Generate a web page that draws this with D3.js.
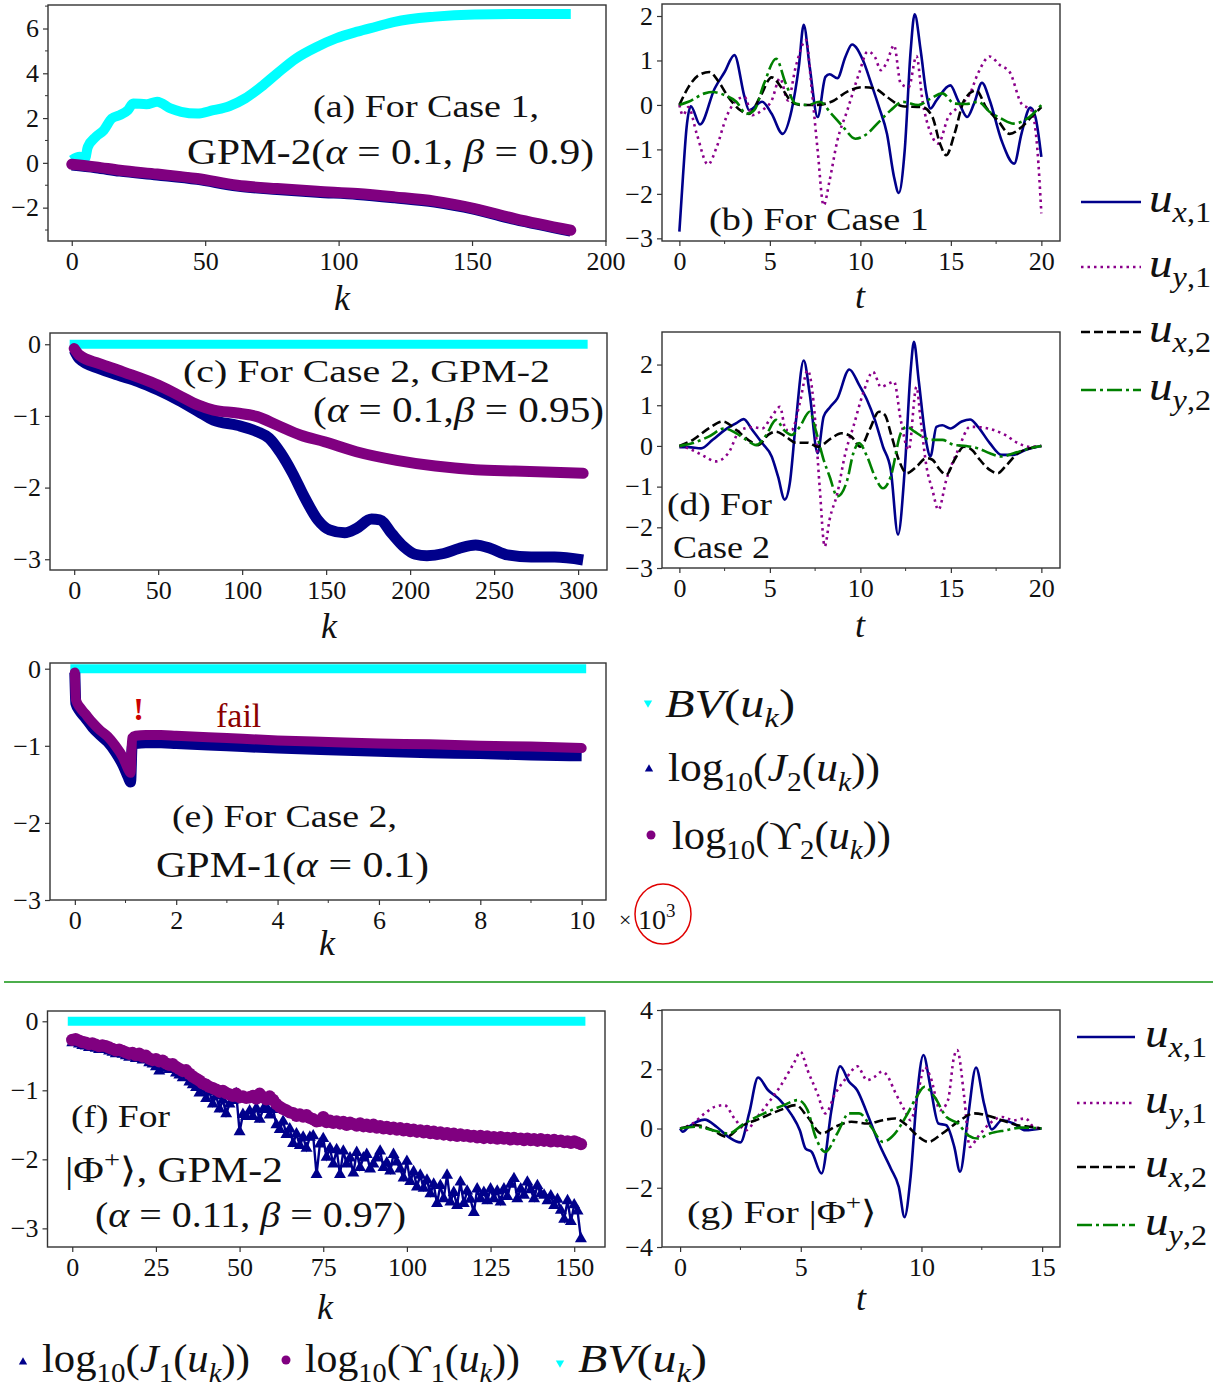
<!DOCTYPE html>
<html>
<head>
<meta charset="utf-8">
<script src="https://cdn.jsdelivr.net/npm/d3@7"></script>
<style>
  body { margin: 0; background: #fff; }
  svg text { font-family: "Liberation Serif", "Times New Roman", Times, serif; fill: #111; }
</style>
</head>
<body>
<script>
// ---------- tick labels ----------
const aXT = [0, 50, 100, 150, 200], aYT = [-2, 0, 2, 4, 6], aYM = [-3, -1, 1, 3, 5, 7];
const tXT20 = [0, 5, 10, 15, 20], tXM20 = [2.5, 7.5, 12.5, 17.5];
const bYT = [-3, -2, -1, 0, 1, 2];
const cXT = [0, 50, 100, 150, 200, 250, 300], cYT = [-3, -2, -1, 0];
const eXT = [0, 2, 4, 6, 8, 10], eXM = [1, 3, 5, 7, 9];
const fXT = [0, 25, 50, 75, 100, 125, 150];
const gXT = [0, 5, 10, 15], gXM = [2.5, 7.5, 12.5], gYT = [-4, -2, 0, 2, 4];

// ---------- (a) Case 1, GPM-2 ----------
const aBVk = [0, 3, 5, 6, 9, 12, 15, 18, 21, 23, 28, 32, 37, 41, 47, 53, 59, 65, 71, 77, 84, 92, 99, 107, 114, 121, 136, 151, 166, 187];
const aBV  = [0.12, 0.27, 0.2, 0.7, 1.16, 1.46, 1.98, 2.13, 2.35, 2.65, 2.62, 2.73, 2.43, 2.28, 2.2, 2.35, 2.53, 2.88, 3.4, 4.0, 4.66, 5.19, 5.56, 5.86, 6.08, 6.3, 6.53, 6.63, 6.65, 6.65];
const aK   = [0, 9, 18, 32, 47, 62, 77, 92, 107, 121, 136, 151, 166, 187];
const aJ   = [-0.1, -0.22, -0.37, -0.54, -0.74, -1.04, -1.19, -1.31, -1.41, -1.56, -1.75, -2.08, -2.53, -3.05];
const aU   = [-0.06, -0.18, -0.33, -0.5, -0.7, -1.0, -1.15, -1.27, -1.37, -1.52, -1.71, -2.04, -2.49, -3.01];

// ---------- (c) Case 2, GPM-2 ----------
const cBVk = [0, 303], cBV = [0, 0];
const cUk = [0, 3, 15, 26, 38, 50, 62, 74, 83, 97, 109, 121, 135, 149, 168, 192, 215, 239, 262, 303];
const cU  = [-0.06, -0.15, -0.27, -0.36, -0.46, -0.57, -0.71, -0.85, -0.92, -0.96, -1.01, -1.13, -1.27, -1.36, -1.5, -1.62, -1.7, -1.75, -1.77, -1.8];
const cJk = [0, 3, 15, 26, 38, 50, 62, 74, 83, 97, 109, 116, 123, 130, 137, 145, 152, 161, 168, 177, 182, 189, 196, 203, 210, 220, 229, 239, 248, 258, 272, 286, 303];
const cJ  = [-0.08, -0.2, -0.34, -0.43, -0.52, -0.64, -0.78, -0.94, -1.06, -1.13, -1.22, -1.31, -1.52, -1.8, -2.13, -2.45, -2.59, -2.63, -2.57, -2.44, -2.45, -2.64, -2.82, -2.93, -2.95, -2.92, -2.85, -2.8, -2.85, -2.94, -2.97, -2.97, -3.01];

// ---------- (e) Case 2, GPM-1 (k in 10^3) ----------
const eBVk = [0, 10], eBV = [0, 0];
const eK = [0, 0.02, 0.1, 0.2, 0.35, 0.5, 0.65, 0.8, 0.95, 1.05, 1.1, 1.13, 1.2, 1.4, 1.7, 2, 3, 4, 5, 6, 7, 8, 9, 10];
const eU = [-0.05, -0.4, -0.5, -0.58, -0.7, -0.8, -0.88, -1.0, -1.15, -1.3, -1.35, -0.9, -0.87, -0.86, -0.86, -0.87, -0.9, -0.93, -0.95, -0.97, -0.98, -1.0, -1.01, -1.03];
const eJ = [-0.05, -0.45, -0.55, -0.63, -0.76, -0.86, -0.95, -1.08, -1.25, -1.4, -1.47, -1.0, -0.97, -0.96, -0.96, -0.97, -1.0, -1.03, -1.05, -1.07, -1.09, -1.1, -1.12, -1.13];

// ---------- (f) |Phi+>, GPM-2, one value per k = 0..152 ----------
const fBVk = [0, 152], fBV = [0, 0];
const fU = [
  -0.27,-0.26,-0.28,-0.30,-0.31,-0.33,-0.32,-0.34,-0.36,-0.35,
  -0.36,-0.38,-0.40,-0.42,-0.41,-0.43,-0.45,-0.47,-0.46,-0.49,
  -0.47,-0.51,-0.50,-0.54,-0.56,-0.55,-0.58,-0.57,-0.61,-0.63,
  -0.62,-0.66,-0.69,-0.72,-0.71,-0.76,-0.80,-0.83,-0.86,-0.90,
  -0.92,-0.95,-0.97,-0.99,-1.02,-1.01,-1.04,-1.06,-1.08,-1.05,
  -1.10,-1.09,-1.11,-1.10,-1.08,-1.12,-1.05,-1.10,-1.13,-1.09,
  -1.14,-1.20,-1.24,-1.27,-1.29,-1.32,-1.33,-1.37,-1.35,-1.38,
  -1.36,-1.40,-1.42,-1.45,-1.44,-1.39,-1.46,-1.44,-1.47,-1.45,
  -1.48,-1.46,-1.50,-1.47,-1.49,-1.51,-1.48,-1.52,-1.50,-1.53,
  -1.50,-1.54,-1.52,-1.55,-1.53,-1.56,-1.54,-1.57,-1.55,-1.58,
  -1.56,-1.59,-1.57,-1.60,-1.58,-1.61,-1.59,-1.62,-1.60,-1.63,
  -1.61,-1.64,-1.62,-1.65,-1.63,-1.66,-1.64,-1.66,-1.65,-1.67,
  -1.66,-1.68,-1.66,-1.69,-1.67,-1.69,-1.68,-1.70,-1.68,-1.70,
  -1.69,-1.71,-1.69,-1.71,-1.70,-1.72,-1.70,-1.72,-1.71,-1.73,
  -1.71,-1.73,-1.72,-1.74,-1.72,-1.74,-1.73,-1.75,-1.74,-1.76,
  -1.74,-1.76,-1.78];
const fJ = [
  -0.31,-0.30,-0.33,-0.35,-0.36,-0.38,-0.37,-0.39,-0.41,-0.40,
  -0.41,-0.43,-0.45,-0.47,-0.46,-0.48,-0.50,-0.52,-0.51,-0.54,
  -0.52,-0.56,-0.55,-0.60,-0.62,-0.66,-0.72,-0.64,-0.68,-0.70,
  -0.67,-0.75,-0.78,-0.82,-0.80,-0.88,-0.92,-0.96,-1.04,-0.98,
  -1.12,-1.02,-1.20,-1.08,-1.27,-1.14,-1.34,-1.20,-1.15,-1.05,
  -1.60,-1.35,-1.38,-1.30,-1.38,-1.26,-1.42,-1.28,-1.24,-1.36,
  -1.28,-1.50,-1.57,-1.45,-1.64,-1.56,-1.77,-1.63,-1.80,-1.68,
  -1.84,-1.68,-1.66,-2.22,-1.78,-1.70,-1.97,-1.84,-2.07,-1.86,
  -2.22,-1.88,-2.07,-1.98,-2.20,-1.90,-2.12,-1.98,-1.93,-2.14,
  -2.07,-1.98,-1.88,-2.12,-2.05,-2.17,-1.93,-2.04,-2.14,-2.27,
  -2.03,-2.32,-2.18,-2.40,-2.23,-2.42,-2.30,-2.50,-2.36,-2.64,
  -2.38,-2.57,-2.23,-2.62,-2.48,-2.67,-2.33,-2.64,-2.46,-2.58,
  -2.77,-2.43,-2.57,-2.48,-2.60,-2.43,-2.57,-2.46,-2.62,-2.43,
  -2.54,-2.36,-2.28,-2.57,-2.43,-2.52,-2.33,-2.44,-2.57,-2.38,
  -2.50,-2.52,-2.60,-2.53,-2.67,-2.58,-2.74,-2.87,-2.60,-2.90,
  -2.66,-2.75,-3.15];

// ---------- (b) controls, Case 1: [t, value] ----------
const bUx1 = [[0,-2.85],[0.2,-1.6],[0.4,-0.5],[0.63,-0.03],[1.14,-0.44],[1.95,0.37],[2.5,0.74],[3.04,1.12],[3.6,0.18],[3.85,-0.12],[4.57,0.07],[5.1,-0.2],[5.7,-0.65],[6.2,-0.12],[6.6,0.86],[6.87,1.8],[7.2,0.86],[7.64,-0.27],[8.07,0.63],[8.3,0.69],[8.73,0.6],[9.17,1.08],[9.54,1.36],[10.15,1.0],[10.6,0.48],[11.03,-0.05],[11.47,-0.65],[11.86,-1.62],[12.12,-1.98],[12.45,-1.02],[12.78,1.23],[13.0,2.04],[13.33,1.23],[13.65,0.25],[13.87,-0.08],[14.2,0.1],[14.97,0.44],[15.4,0.1],[15.9,-0.27],[16.28,0.03],[16.72,0.5],[17.15,0.1],[17.8,-0.8],[18.5,-1.32],[18.9,-0.65],[19.39,-0.06],[19.67,-0.27],[20,-1.17]];
const bUy1 = [[0,0],[0.2,-0.23],[0.5,-0.05],[0.96,-0.65],[1.58,-1.34],[2.06,-0.95],[2.6,-0.27],[3.15,0.1],[3.6,0.18],[4.03,-0.23],[4.57,-0.12],[5.1,0.1],[5.56,0.6],[6.0,0.1],[6.43,0.86],[7.0,1.46],[7.3,0.4],[7.64,-1.02],[7.97,-2.26],[8.3,-1.7],[8.73,-0.8],[9.28,-0.12],[9.93,0.71],[10.4,1.2],[10.8,1.08],[11.14,0.78],[11.47,0.97],[11.86,1.34],[12.23,0.48],[12.67,0.4],[13.1,1.1],[13.43,0.1],[13.9,-0.65],[14.3,-0.87],[14.86,-0.27],[15.4,-0.05],[16.06,0.26],[16.5,0.71],[17.15,1.09],[17.7,0.9],[18.25,0.74],[18.9,0.03],[19.45,-0.12],[19.78,-1.0],[20,-2.44]];
const bUx2 = [[0,0],[0.5,0.4],[1.07,0.67],[1.66,0.74],[2.17,0.52],[2.7,0.18],[3.37,-0.12],[3.85,-0.2],[4.46,0.18],[5.1,0.62],[5.67,0.37],[6.2,0.07],[6.65,0],[7.5,0],[8.4,0.07],[9.28,0.3],[10.15,0.4],[10.8,0.37],[11.47,0.18],[12.34,-0.03],[13.43,-0.05],[13.98,-0.27],[14.4,-0.87],[14.75,-1.13],[15.2,-0.65],[15.73,0.1],[16.4,0.33],[16.94,-0.05],[17.6,-0.35],[18.25,-0.65],[18.9,-0.5],[19.45,-0.27],[20,-0.05]];
const bUy2 = [[0,0],[0.5,0.07],[1.4,0.26],[1.84,0.29],[2.5,0.22],[3.15,0.07],[3.7,-0.2],[4.13,-0.12],[4.68,0.48],[5.34,1.04],[5.88,0.48],[6.43,0.03],[7.09,0],[7.74,0.07],[8.4,-0.2],[9.06,-0.5],[9.72,-0.76],[10.37,-0.65],[11.03,-0.38],[11.68,-0.12],[12.34,0.07],[13.2,0],[13.87,0.14],[14.53,0.26],[15.2,0.03],[15.85,0.02],[16.5,0.07],[17.15,-0.16],[17.8,-0.31],[18.47,-0.42],[19.34,-0.27],[20,0]];

// ---------- (d) controls, Case 2 ----------
const dUx1 = [[0,-0.03],[0.5,-0.03],[1.2,-0.06],[1.84,0.15],[2.5,0.39],[3.15,0.56],[3.55,0.66],[4.03,0.39],[4.57,0.07],[5.1,-0.26],[5.45,-0.75],[5.82,-1.32],[6.1,-0.92],[6.43,0.56],[6.87,2.1],[7.2,1.29],[7.64,-0.18],[7.97,0.72],[8.3,0.94],[8.73,1.17],[9.39,1.88],[9.93,1.5],[10.37,1.13],[10.8,0.64],[11.25,-0.02],[11.68,-0.59],[12.08,-2.18],[12.45,-0.59],[12.78,1.86],[12.96,2.56],[13.22,1.62],[13.65,0.07],[13.87,-0.26],[14.2,0.47],[14.53,0.51],[14.97,0.43],[15.6,0.6],[16.06,0.65],[16.5,0.47],[17.15,0.07],[17.8,-0.22],[18.47,-0.22],[19.12,-0.1],[20,0]];
const dUy1 = [[0,0],[0.5,-0.06],[1.4,-0.26],[2.0,-0.38],[2.7,-0.18],[3.37,0.39],[4.03,0.46],[4.57,0.43],[5.1,0.72],[5.56,0.96],[5.88,0.39],[6.2,0.39],[6.65,1.05],[7.09,1.86],[7.42,1.05],[7.75,-1.0],[8.03,-2.47],[8.3,-1.81],[8.73,-1.16],[9.17,-0.18],[9.61,0.47],[10.15,1.29],[10.7,1.82],[11.14,1.45],[11.6,1.54],[11.86,1.58],[12.23,0.64],[12.67,-0.1],[13.1,1.45],[13.33,0.64],[13.65,-0.5],[13.98,-1.08],[14.31,-1.57],[14.75,-0.83],[15.4,-0.1],[16.06,0.47],[16.6,0.46],[17.37,0.39],[18.0,0.27],[18.7,0.07],[19.34,-0.02],[20,0]];
const dUx2 = [[0,0],[0.75,0.15],[1.62,0.43],[2.39,0.6],[3.15,0.39],[3.8,0.15],[4.35,0.02],[4.9,0.27],[5.34,0.35],[5.88,0.23],[6.43,0.08],[7.09,0.08],[7.64,-0.02],[8.4,0.19],[8.95,0.31],[9.5,0.23],[10,-0.02],[10.5,0.39],[11.03,0.84],[11.36,0.76],[11.68,0.31],[12.12,-0.34],[12.56,-0.67],[13.1,-0.51],[13.65,-0.3],[13.98,-0.34],[14.4,-0.59],[14.75,-0.71],[15.2,-0.34],[15.73,-0.02],[16.17,-0.1],[16.6,-0.34],[17.15,-0.59],[17.6,-0.67],[18.0,-0.51],[18.7,-0.18],[19.34,-0.06],[20,0]];
const dUy2 = [[0,0],[0.75,0.07],[1.62,0.23],[2.5,0.43],[3.15,0.31],[3.7,0.15],[4.24,0.02],[4.8,0.27],[5.34,0.64],[5.78,0.39],[6.2,0.27],[6.65,0.47],[7.2,0.84],[7.53,0.39],[7.97,-0.34],[8.3,-0.75],[8.73,-1.24],[9.28,-0.83],[9.61,-0.18],[9.93,0.07],[10.37,-0.26],[10.8,-0.75],[11.25,-1.04],[11.68,-0.75],[12.23,0.31],[12.56,0.47],[13.0,0.35],[13.43,0.23],[13.87,0.15],[14.53,0.15],[15.2,0.02],[15.85,0],[16.5,-0.06],[17.15,-0.18],[17.8,-0.26],[18.47,-0.18],[19.34,-0.06],[20,0]];

// ---------- (g) controls, |Phi+> ----------
const gUx1 = [[0,0],[0.11,-0.11],[0.36,0.06],[1.02,0.3],[1.51,0.06],[2.0,-0.28],[2.5,-0.47],[2.86,0.51],[3.23,1.72],[3.64,1.3],[4.14,0.96],[4.63,0.45],[4.96,-0.06],[5.2,-0.68],[5.45,-0.79],[5.86,-1.52],[6.27,0.62],[6.63,2.1],[7.0,1.58],[7.33,1.3],[7.75,0.51],[8.24,-0.51],[8.73,-1.35],[9.06,-1.97],[9.3,-2.99],[9.55,-1.63],[9.8,0.96],[10.08,2.48],[10.37,1.41],[10.7,0.17],[11.03,0.11],[11.36,-0.62],[11.6,-1.46],[11.93,0.39],[12.26,2.06],[12.59,0.85],[12.92,-0.03],[13.33,0.28],[13.82,0.17],[14.31,-0.06],[14.97,0]];
const gUy1 = [[0,0],[0.52,0.17],[1.02,0.51],[1.43,0.73],[1.84,0.79],[2.25,0.34],[2.74,-0.06],[3.15,0.34],[3.64,0.85],[4.14,1.41],[4.71,2.2],[4.99,2.59],[5.28,1.97],[5.69,1.18],[6.02,0.51],[6.43,1.18],[6.93,1.75],[7.34,2.1],[7.75,1.63],[8.07,1.75],[8.37,1.92],[8.57,1.8],[8.9,1.24],[9.3,0.62],[9.55,0.28],[9.88,1.3],[10.13,2.08],[10.37,1.75],[10.78,0.62],[11.1,0.96],[11.35,2.42],[11.48,2.65],[11.77,1.07],[12.0,-0.62],[12.34,-0.28],[12.83,0.17],[13.33,0.39],[13.82,0.28],[14.31,0.34],[14.64,0.06],[14.97,0]];
const gUx2 = [[0,0],[0.69,0.11],[1.35,-0.06],[1.92,-0.28],[2.5,0.06],[3.32,0.34],[4.14,0.62],[4.8,0.79],[5.28,0.39],[5.86,-0.17],[6.43,0.06],[7.1,0.23],[7.75,0.17],[8.4,0.28],[8.9,0.34],[9.39,0.11],[9.88,-0.28],[10.29,-0.45],[10.86,-0.17],[11.52,0.23],[12.18,0.51],[12.67,0.45],[13.33,0.28],[13.98,0.11],[14.48,0.06],[14.97,0]];
const gUy2 = [[0,0],[0.69,0.06],[1.35,-0.06],[2.0,-0.17],[2.66,0.17],[3.48,0.51],[4.3,0.79],[4.88,0.96],[5.28,0.62],[5.61,-0.28],[6.02,-0.79],[6.51,-0.17],[7.0,0.51],[7.42,0.51],[7.91,0.06],[8.4,-0.45],[8.9,-0.17],[9.39,0.45],[9.8,1.07],[10.13,1.41],[10.54,1.07],[11.03,0.39],[11.52,0.17],[11.93,-0.23],[12.34,-0.34],[12.83,-0.17],[13.49,-0.06],[14.14,0.03],[14.97,0]];

// ---------- styling ----------
const CYAN = "#00ffff", NAVY = "#00008b", PURPLE = "#800080";
const LINES = [
  { c: "#00008b", dash: null },          // u_x,1
  { c: "#8b008b", dash: "2.5,4" },       // u_y,1
  { c: "#000000", dash: "9,4" },         // u_x,2
  { c: "#008000", dash: "15,4,3,4" }     // u_y,2
];
const fmt = d3.format("d");

const svg = d3.select("body").append("svg")
  .attr("width", 1231).attr("height", 1391)
  .style("display", "block");

// text with sub/superscripts: parts = [[string, kind]], kind r|i|subr|subi|supr
function rich(g, x, y, parts, size, width) {
  const t = g.append("text").attr("x", x).attr("y", y).attr("font-size", size);
  let shift = 0;
  parts.forEach(([s, k]) => {
    const sub = k.startsWith("sub"), sup = k.startsWith("sup");
    const target = sub ? size * 0.24 : sup ? -size * 0.42 : 0;
    const sp = t.append("tspan").attr("dy", target - shift).text(s);
    shift = target;
    if (sub || sup) sp.attr("font-size", size * 0.68);
    if (k.endsWith("i")) sp.attr("font-style", "italic");
  });
  if (width) t.attr("textLength", width).attr("lengthAdjust", "spacingAndGlyphs");
  return t;
}

function panel(bx, xd, yd, xt, yt, xm, ym, lab, lx, ly) {
  const [l, r, top, bot] = bx;
  const g = svg.append("g");
  const x = d3.scaleLinear().domain(xd).range([l, r]);
  const y = d3.scaleLinear().domain(yd).range([bot, top]);

  const xa = g.append("g").attr("transform", `translate(0,${bot})`)
    .call(d3.axisBottom(x).tickValues(xt).tickSize(5).tickPadding(6).tickFormat(fmt));
  const ya = g.append("g").attr("transform", `translate(${l},0)`)
    .call(d3.axisLeft(y).tickValues(yt).tickSize(5).tickPadding(4).tickFormat(fmt));
  [xa, ya].forEach(a => {
    a.attr("font-family", null).attr("font-size", null);
    a.select(".domain").remove();
    a.selectAll("line").attr("stroke", "#333").attr("stroke-width", 1.2);
    a.selectAll("text").attr("font-size", 26).attr("fill", "#111");
  });
  (xm || []).forEach(v => g.append("line")
    .attr("x1", x(v)).attr("x2", x(v)).attr("y1", bot).attr("y2", bot + 3)
    .attr("stroke", "#333").attr("stroke-width", 1));
  (ym || []).forEach(v => g.append("line")
    .attr("y1", y(v)).attr("y2", y(v)).attr("x1", l).attr("x2", l - 3)
    .attr("stroke", "#333").attr("stroke-width", 1));

  g.append("rect")
    .attr("x", l).attr("y", top).attr("width", r - l).attr("height", bot - top)
    .attr("fill", "none").attr("stroke", "#333").attr("stroke-width", 1.4);

  g.append("text")
    .attr("x", lx).attr("y", ly)
    .attr("text-anchor", "middle").attr("font-style", "italic").attr("font-size", 36)
    .text(lab);
  return { g, x, y };
}

// thick band made of densely packed markers
function band(p, ks, vs, color, w, cap) {
  p.g.append("path")
    .datum(d3.zip(ks, vs))
    .attr("d", d3.line().x(d => p.x(d[0])).y(d => p.y(d[1])).curve(d3.curveMonotoneX))
    .attr("fill", "none").attr("stroke", color).attr("stroke-width", w)
    .attr("stroke-linecap", cap || "butt").attr("stroke-linejoin", "round");
}

function controls(p, series) {
  series.forEach((s, i) => {
    p.g.append("path")
      .datum(s)
      .attr("d", d3.line().x(d => p.x(d[0])).y(d => p.y(d[1])).curve(d3.curveMonotoneX))
      .attr("fill", "none").attr("stroke", LINES[i].c).attr("stroke-width", 2.6)
      .attr("stroke-dasharray", LINES[i].dash);
  });
}

function lineLegend(x0, x1, tx, ys) {
  const subs = [["x", ",1"], ["y", ",1"], ["x", ",2"], ["y", ",2"]];
  ys.forEach((yy, i) => {
    svg.append("line")
      .attr("x1", x0).attr("x2", x1).attr("y1", yy).attr("y2", yy)
      .attr("stroke", LINES[i].c).attr("stroke-width", 2.6)
      .attr("stroke-dasharray", LINES[i].dash);
    rich(svg, tx, yy + 10, [["u", "i"], [subs[i][0], "subi"], [subs[i][1], "subr"]], 42, 62);
  });
}

const tri = d3.symbol().type(d3.symbolTriangle);

// ---------- (a) ----------
const pa = panel([48, 606, 5, 241], [-8.9, 200.2], [-3.49, 7.05], aXT, aYT, null, aYM, "k", 342, 310);
band(pa, aBVk, aBV, CYAN, 10);
band(pa, aK, aJ, NAVY, 11);
band(pa, aK, aU, PURPLE, 11, "round");
rich(pa.g, 313, 117, [["(a) For Case 1,", "r"]], 32, 226);
rich(pa.g, 187, 164, [["GPM-2(", "r"], ["α", "i"], [" = 0.1, ", "r"], ["β", "i"], [" = 0.9)", "r"]], 35, 407);

// ---------- (b) ----------
const pb = panel([662, 1060, 4, 241], [-0.96, 21.03], [-3.06, 2.27], tXT20, bYT, tXM20, null, "t", 860, 308);
controls(pb, [bUx1, bUy1, bUx2, bUy2]);
rich(pb.g, 709, 230, [["(b) For Case 1", "r"]], 32, 220);

// ---------- (c) ----------
const pc = panel([50, 607, 333, 570], [-14.4, 317.2], [-3.15, 0.157], cXT, cYT, null, null, "k", 329, 638);
band(pc, cBVk, cBV, CYAN, 9, "square");
band(pc, cJk, cJ, NAVY, 11);
band(pc, cUk, cU, PURPLE, 11, "round");
rich(pc.g, 183, 382, [["(c) For Case 2, GPM-2", "r"]], 32, 367);
rich(pc.g, 313, 422, [["(", "r"], ["α", "i"], [" = 0.1,", "r"], ["β", "i"], [" = 0.95)", "r"]], 35, 291);

// ---------- (d) ----------
const pd = panel([662, 1060, 332, 568], [-0.96, 21.03], [-3.0, 2.8], tXT20, bYT, tXM20, null, "t", 860, 637);
controls(pd, [dUx1, dUy1, dUx2, dUy2]);
rich(pd.g, 667, 515, [["(d) For", "r"]], 32, 105);
rich(pd.g, 673, 558, [["Case 2", "r"]], 32, 97);

lineLegend(1081, 1141, 1149, [202, 267, 332, 390]);

// ---------- (e) ----------
const pe = panel([50, 606, 663, 900], [-0.49, 10.48], [-3.0, 0.074], eXT, cYT, eXM, null, "k", 327, 955);
band(pe, eBVk, eBV, CYAN, 9, "square");
band(pe, eK, eJ, NAVY, 11);
band(pe, eK, eU, PURPLE, 10, "round");
pe.g.append("text").attr("x", 138.5).attr("y", 720).attr("text-anchor", "middle")
  .attr("font-size", 32).attr("font-weight", "bold").style("fill", "#cc0000").text("!");
pe.g.append("text").attr("x", 216).attr("y", 727)
  .attr("font-size", 34).style("fill", "#8b0000").text("fail");
rich(pe.g, 172, 827, [["(e) For Case 2,", "r"]], 32, 225);
rich(pe.g, 156, 877, [["GPM-1(", "r"], ["α", "i"], [" = 0.1)", "r"]], 35, 273);

// x10^3 with red circle
svg.append("text").attr("x", 619).attr("y", 927).attr("font-size", 22).text("×");
rich(svg, 638, 929, [["10", "r"], ["3", "supr"]], 28);
svg.append("ellipse").attr("cx", 663).attr("cy", 914).attr("rx", 28).attr("ry", 30)
  .attr("fill", "none").attr("stroke", "#e00000").attr("stroke-width", 1.5);

// middle legend
svg.append("path").attr("d", tri.size(30)()).attr("fill", CYAN)
  .attr("transform", "translate(648,703) rotate(180)");
rich(svg, 665, 717, [["BV", "i"], ["(", "r"], ["u", "i"], ["k", "subi"], [")", "r"]], 40, 130);
svg.append("path").attr("d", tri.size(30)()).attr("fill", NAVY)
  .attr("transform", "translate(649,769)");
rich(svg, 668, 781, [["log", "r"], ["10", "subr"], ["(", "r"], ["J", "i"], ["2", "subr"], ["(", "r"], ["u", "i"], ["k", "subi"], ["))", "r"]], 40, 212);
svg.append("circle").attr("cx", 651).attr("cy", 835).attr("r", 4.5).attr("fill", PURPLE);
rich(svg, 672, 849, [["log", "r"], ["10", "subr"], ["(", "r"], ["ϒ", "r"], ["2", "subr"], ["(", "r"], ["u", "i"], ["k", "subi"], ["))", "r"]], 40, 219);

// separator
svg.append("line").attr("x1", 4).attr("x2", 1213).attr("y1", 982).attr("y2", 982)
  .attr("stroke", "#4cae4c").attr("stroke-width", 2);

// ---------- (f) ----------
const pf = panel([47.5, 605, 1011, 1247], [-7.4, 159.2], [-3.27, 0.149], fXT, cYT, null, null, "k", 325, 1319);
band(pf, fBVk, fBV, CYAN, 9, "square");
const fPts = (arr) => arr.map((v, k) => [k, v]);
const lineF = d3.line().x(d => pf.x(d[0])).y(d => pf.y(d[1]));
pf.g.append("path").datum(fPts(fJ)).attr("d", lineF)
  .attr("fill", "none").attr("stroke", NAVY).attr("stroke-width", 2.4);
pf.g.selectAll("path.jm").data(fPts(fJ)).join("path").attr("class", "jm")
  .attr("d", tri.size(62)()).attr("fill", NAVY)
  .attr("transform", d => `translate(${pf.x(d[0])},${pf.y(d[1])})`);
pf.g.append("path").datum(fPts(fU)).attr("d", lineF)
  .attr("fill", "none").attr("stroke", PURPLE).attr("stroke-width", 2.4);
pf.g.selectAll("circle.um").data(fPts(fU)).join("circle").attr("class", "um")
  .attr("cx", d => pf.x(d[0])).attr("cy", d => pf.y(d[1])).attr("r", 6.2).attr("fill", PURPLE);
rich(pf.g, 71, 1127, [["(f) For", "r"]], 32, 99);
rich(pf.g, 65, 1182, [["|Φ", "r"], ["+", "supr"], ["⟩, GPM-2", "r"]], 35, 218);
rich(pf.g, 95, 1227, [["(", "r"], ["α", "i"], [" = 0.11, ", "r"], ["β", "i"], [" = 0.97)", "r"]], 35, 311);

// ---------- (g) ----------
const pg = panel([662, 1060, 1010, 1247], [-0.75, 15.74], [-4, 4], gXT, gYT, gXM, null, "t", 861, 1310);
controls(pg, [gUx1, gUy1, gUx2, gUy2]);
rich(pg.g, 687, 1223, [["(g) For |Φ", "r"], ["+", "supr"], ["⟩", "r"]], 32, 189);
lineLegend(1077, 1135, 1145, [1037, 1103, 1167, 1225]);

// bottom legend
svg.append("path").attr("d", tri.size(30)()).attr("fill", NAVY)
  .attr("transform", "translate(23,1362)");
rich(svg, 42, 1372, [["log", "r"], ["10", "subr"], ["(", "r"], ["J", "i"], ["1", "subr"], ["(", "r"], ["u", "i"], ["k", "subi"], ["))", "r"]], 40, 208);
svg.append("circle").attr("cx", 286).attr("cy", 1360).attr("r", 4.5).attr("fill", PURPLE);
rich(svg, 305, 1372, [["log", "r"], ["10", "subr"], ["(", "r"], ["ϒ", "r"], ["1", "subr"], ["(", "r"], ["u", "i"], ["k", "subi"], ["))", "r"]], 40, 215);
svg.append("path").attr("d", tri.size(30)()).attr("fill", CYAN)
  .attr("transform", "translate(560,1363) rotate(180)");
rich(svg, 578, 1372, [["BV", "i"], ["(", "r"], ["u", "i"], ["k", "subi"], [")", "r"]], 40, 129);
</script>
</body>
</html>
